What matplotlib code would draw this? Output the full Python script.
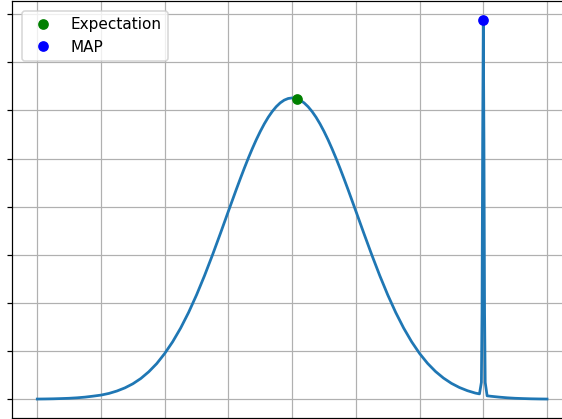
import matplotlib
matplotlib.use("Agg")
import matplotlib.pyplot as plt

# density curve, sampled by hand along x
x_vals = [0.0, 0.125, 0.25, 0.375, 0.5, 0.625, 0.75, 0.875,
          1.0, 1.125, 1.25, 1.375, 1.5, 1.625, 1.75, 1.875,
          2.0, 2.125, 2.25, 2.375, 2.5, 2.625, 2.75, 2.875,
          3.0, 3.125, 3.1875, 3.25, 3.3125, 3.375, 3.4375, 3.5,
          3.5625, 3.625, 3.6875, 3.75, 3.8125, 3.875, 3.9375,
          4.0, 4.0625, 4.125, 4.1875, 4.25, 4.3125, 4.375, 4.4375,
          4.5, 4.5625, 4.625, 4.6875, 4.75, 4.8125, 4.875,
          5.0, 5.125, 5.25, 5.375, 5.5, 5.625, 5.75, 5.875,
          6.0, 6.125, 6.25, 6.375, 6.5, 6.625, 6.75, 6.875,
          6.94, 6.97, 6.98, 6.99, 7.0, 7.01, 7.02, 7.03, 7.06,
          7.125, 7.25, 7.375, 7.5, 7.625, 7.75, 7.875, 8.0]
density = [0.003, 0.005, 0.008, 0.013, 0.019, 0.029, 0.043, 0.063,
           0.085, 0.12, 0.17, 0.235, 0.32, 0.43, 0.57, 0.74,
           0.95, 1.194, 1.478, 1.803, 2.168, 2.568, 2.998, 3.448,
           3.908, 4.364, 4.586, 4.802, 5.010, 5.207, 5.393, 5.564,
           5.720, 5.859, 5.978, 6.078, 6.157, 6.214, 6.248,
           6.26, 6.248, 6.214, 6.157, 6.078, 5.978, 5.859, 5.720,
           5.564, 5.393, 5.207, 5.010, 4.802, 4.586, 4.364,
           3.908, 3.448, 2.998, 2.568, 2.168, 1.803, 1.478, 1.194,
           0.95, 0.745, 0.576, 0.439, 0.329, 0.243, 0.177, 0.127,
           0.11, 0.35, 1.8, 5.4, 7.88, 5.4, 1.8, 0.35, 0.07,
           0.06, 0.043, 0.029, 0.019, 0.013, 0.008, 0.005, 0.003]

expectation_x = 4.08
expectation_y = 6.24
map_x = 7.0
map_y = 7.88

dpi = 110
fig = plt.figure(figsize=(562 / dpi, 419 / dpi), dpi=dpi)
ax = fig.add_axes([11.8 / 562, 1 / 419, 560.7 / 562, 417 / 419])

ax.plot(x_vals, density, color='#1f77b4', linewidth=1.8)
ax.plot(expectation_x, expectation_y, 'o', color='green', label='Expectation')
ax.plot(map_x, map_y, 'o', color='blue', label='MAP')

ax.set_xticks([0, 1, 2, 3, 4, 5, 6, 7, 8])
ax.set_yticks([0, 1, 2, 3, 4, 5, 6, 7, 8])
ax.tick_params(labelleft=False, labelbottom=False)
ax.grid(True)
ax.legend(loc='upper left', borderaxespad=0.65)

fig.savefig('out.png', dpi=dpi)
